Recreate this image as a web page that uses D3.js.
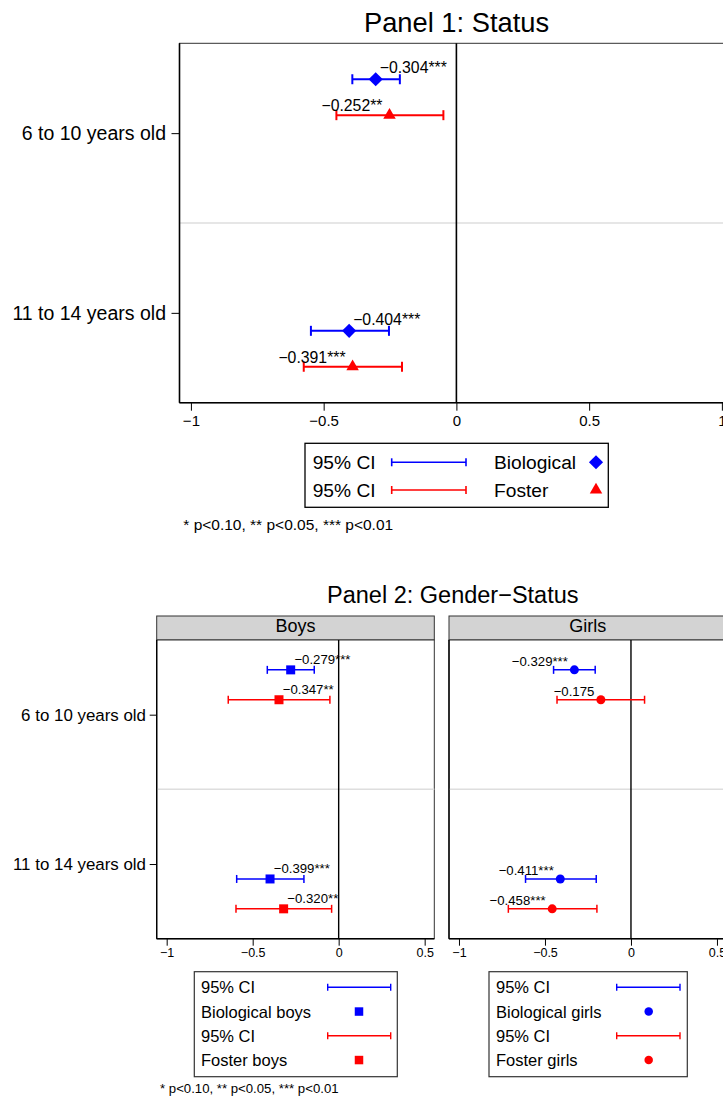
<!DOCTYPE html>
<html>
<head>
<meta charset="utf-8">
<script src="https://cdn.jsdelivr.net/npm/d3@7"></script>
<style>
  body { margin: 0; background: #fff; }
  svg { display: block; }
  text { font-family: "Liberation Sans", Arial, Helvetica, sans-serif; }
</style>
</head>
<body>
<svg id="chart" width="723" height="1100"></svg>
<script>
// ---------------- DATA ----------------
const ageGroups = ["6 to 10 years old", "11 to 14 years old"];

// Panel 1: Status
const p1BioEst   = [-0.304, -0.404];
const p1BioLo    = [-0.392, -0.548];
const p1BioHi    = [-0.213, -0.254];
const p1BioStars = ["***", "***"];
const p1FosEst   = [-0.252, -0.391];
const p1FosLo    = [-0.452, -0.575];
const p1FosHi    = [-0.049, -0.205];
const p1FosStars = ["**", "***"];

// Panel 2: Gender-Status
const boysBioEst   = [-0.279, -0.399];
const boysBioLo    = [-0.415, -0.593];
const boysBioHi    = [-0.142, -0.202];
const boysBioStars = ["***", "***"];
const boysFosEst   = [-0.347, -0.320];
const boysFosLo    = [-0.642, -0.597];
const boysFosHi    = [-0.051, -0.041];
const boysFosStars = ["**", "**"];

const girlsBioEst   = [-0.329, -0.411];
const girlsBioLo    = [-0.450, -0.613];
const girlsBioHi    = [-0.208, -0.202];
const girlsBioStars = ["***", "***"];
const girlsFosEst   = [-0.175, -0.458];
const girlsFosLo    = [-0.430, -0.713];
const girlsFosHi    = [ 0.079, -0.198];
const girlsFosStars = ["", "***"];

const xTicks1 = [-1, -0.5, 0, 0.5, 1];
const xTicks2 = [-1, -0.5, 0, 0.5];

const title1 = "Panel 1: Status";
const title2 = "Panel 2: Gender\u2212Status";
const facetNames = ["Boys", "Girls"];
const legend1Labels = ["95% CI", "Biological", "95% CI", "Foster"];
const legendBoys  = ["95% CI", "Biological boys", "95% CI", "Foster boys"];
const legendGirls = ["95% CI", "Biological girls", "95% CI", "Foster girls"];
const noteText = "* p<0.10, ** p<0.05, *** p<0.01";

// ---------------- DRAWING ----------------
const BLUE = "#0000ff", RED = "#ff0000";
const svg = d3.select("#chart");
const fmtVal = d3.format(".3f");
const fmtTick = d3.format("~g");

// vertical placement inside plot (fraction of plot height)
function rowPos(r, s) { return (r === 0 ? 0.1 : 0.8) + 0.1 * s; }

function markerPath(type, size) {
  if (type === "diamond") return d3.symbol(d3.symbolSquare, size * size)();
  if (type === "triangle") return d3.symbol(d3.symbolTriangle, Math.sqrt(3) / 4 * size * size)();
  if (type === "square") return d3.symbol(d3.symbolSquare, size * size)();
  return d3.symbol(d3.symbolCircle, Math.PI * (size / 2) * (size / 2))();
}
function drawMarker(g, type, size, cx, cy, color) {
  g.append("path")
    .attr("d", markerPath(type, size))
    .attr("transform", `translate(${cx},${cy})` + (type === "diamond" ? " rotate(45)" : ""))
    .attr("fill", color);
}
function drawCI(g, x1, x2, cy, capH, color, w) {
  g.append("line").attr("x1", x1).attr("x2", x2).attr("y1", cy).attr("y2", cy)
    .attr("stroke", color).attr("stroke-width", w);
  [x1, x2].forEach(xx => g.append("line").attr("x1", xx).attr("x2", xx)
    .attr("y1", cy - capH / 2).attr("y2", cy + capH / 2)
    .attr("stroke", color).attr("stroke-width", w));
}

function drawPlot(g, x, y, series, cfg) {
  const [xl, xr] = x.range();
  const [yt, yb] = y.range();
  g.append("rect").attr("x", xl).attr("y", yt).attr("width", xr - xl).attr("height", yb - yt)
    .attr("fill", "#fff").attr("stroke", "#333").attr("stroke-width", 1);
  // separator
  g.append("line").attr("x1", xl).attr("x2", xr).attr("y1", y(0.5)).attr("y2", y(0.5))
    .attr("stroke", "#dedede").attr("stroke-width", 1.5);
  // zero line
  g.append("line").attr("x1", x(0)).attr("x2", x(0)).attr("y1", yt).attr("y2", yb)
    .attr("stroke", "#000").attr("stroke-width", cfg.zeroW);

  series.forEach((s, si) => {
    s.est.forEach((v, r) => {
      const cy = y(rowPos(r, si));
      drawCI(g, x(s.lo[r]), x(s.hi[r]), cy, cfg.capH, s.color, cfg.ciW);
      drawMarker(g, s.marker, cfg.markerSize[s.marker], x(v), cy, s.color);
      const right = s.labelPos === "right";
      g.append("text")
        .attr("x", right ? x(v) + cfg.gapR : x(v) - cfg.gapL)
        .attr("y", right ? cy - 6 : cy - 4)
        .attr("text-anchor", right ? "start" : "end")
        .attr("font-size", cfg.labelSize)
        .attr("fill", "#000")
        .text(fmtVal(v) + s.stars[r]);
    });
  });

  // axes lines
  g.append("line").attr("x1", xl).attr("x2", xl).attr("y1", yt).attr("y2", yb)
    .attr("stroke", "#000").attr("stroke-width", cfg.axisW);
  g.append("line").attr("x1", xl).attr("x2", xr).attr("y1", yb).attr("y2", yb)
    .attr("stroke", "#000").attr("stroke-width", cfg.axisW);

  // x axis
  const ax = g.append("g").attr("transform", `translate(0,${yb})`)
    .call(d3.axisBottom(x).tickValues(cfg.xTicks).tickSize(cfg.tickLen)
      .tickPadding(cfg.xPad).tickFormat(fmtTick));
  ax.select(".domain").remove();
  ax.selectAll("text").attr("font-size", cfg.tickSize)
    .attr("font-family", '"Liberation Sans", Arial, sans-serif').attr("fill", "#000");
  ax.selectAll("line").attr("stroke", "#000");

  // y axis
  if (cfg.yAxis) {
    const yCat = d3.scalePoint().domain(ageGroups).range([y(0.25), y(0.75)]);
    const ay = g.append("g").attr("transform", `translate(${xl},0)`)
      .call(d3.axisLeft(yCat).tickSize(cfg.tickLen).tickPadding(cfg.yPad));
    ay.select(".domain").remove();
    ay.selectAll("text").attr("font-size", cfg.yLabelSize)
      .attr("font-family", '"Liberation Sans", Arial, sans-serif').attr("fill", "#000");
    ay.selectAll("line").attr("stroke", "#000");
  }
}

// ---------- Panel 1 ----------
const g1 = svg.append("g");
const x1 = d3.scaleLinear().domain([-1.043, 1.043]).range([179.5, 733.3]);
const y1 = d3.scaleLinear().domain([0, 1]).range([43.3, 402.7]);

g1.append("text").attr("x", 456.5).attr("y", 31.7).attr("text-anchor", "middle")
  .attr("font-size", 27.3).text(title1);

drawPlot(g1, x1, y1, [
  { est: p1BioEst, lo: p1BioLo, hi: p1BioHi, stars: p1BioStars, color: BLUE, marker: "diamond", labelPos: "right" },
  { est: p1FosEst, lo: p1FosLo, hi: p1FosHi, stars: p1FosStars, color: RED, marker: "triangle", labelPos: "left" }
], {
  zeroW: 1.6, ciW: 2, capH: 10, markerSize: { diamond: 10, triangle: 12.5 },
  labelSize: 15.8, gapR: 4, gapL: 7, axisW: 1.6, xTicks: xTicks1, tickLen: 8, xPad: 4.3,
  tickSize: 15, yAxis: true, yPad: 5.5, yLabelSize: 19.5
});

// legend panel 1
const lg1 = svg.append("g");
lg1.append("rect").attr("x", 305).attr("y", 443.3).attr("width", 303.3).attr("height", 64)
  .attr("fill", "#fff").attr("stroke", "#000").attr("stroke-width", 1.3);
[[BLUE, "diamond"], [RED, "triangle"]].forEach(([col, mk], i) => {
  const base = 469 + i * 27.7;
  const cy = base - 6.7;
  lg1.append("text").attr("x", 312.7).attr("y", base).attr("font-size", 19.2).text(legend1Labels[i * 2]);
  drawCI(lg1, 391.7, 466, cy, 8, col, 1.6);
  lg1.append("text").attr("x", 494).attr("y", base).attr("font-size", 19.2).text(legend1Labels[i * 2 + 1]);
  drawMarker(lg1, mk, mk === "diamond" ? 10 : 12.5, 596, cy, col);
});
svg.append("text").attr("x", 183.3).attr("y", 530).attr("font-size", 15.5).text(noteText);

// ---------- Panel 2 ----------
const g2 = svg.append("g");
g2.append("text").attr("x", 452.8).attr("y", 602.7).attr("text-anchor", "middle")
  .attr("font-size", 23.5).text(title2);

const y2 = d3.scaleLinear().domain([0, 1]).range([640, 938.7]);
const facetLefts = [156.7, 449];
const facetWidth = 277.6;
const facetSeries = [
  [
    { est: boysBioEst, lo: boysBioLo, hi: boysBioHi, stars: boysBioStars, color: BLUE, marker: "square", labelPos: "right" },
    { est: boysFosEst, lo: boysFosLo, hi: boysFosHi, stars: boysFosStars, color: RED, marker: "square", labelPos: "right" }
  ],
  [
    { est: girlsBioEst, lo: girlsBioLo, hi: girlsBioHi, stars: girlsBioStars, color: BLUE, marker: "circle", labelPos: "left" },
    { est: girlsFosEst, lo: girlsFosLo, hi: girlsFosHi, stars: girlsFosStars, color: RED, marker: "circle", labelPos: "left" }
  ]
];

facetNames.forEach((name, fi) => {
  const xl = facetLefts[fi];
  const x = d3.scaleLinear().domain([-1.058, 0.556]).range([xl, xl + facetWidth]);
  // strip
  g2.append("rect").attr("x", xl).attr("y", 616).attr("width", facetWidth).attr("height", 24)
    .attr("fill", "#d3d3d3").attr("stroke", "#333").attr("stroke-width", 1);
  g2.append("text").attr("x", xl + facetWidth / 2).attr("y", 632.3).attr("text-anchor", "middle")
    .attr("font-size", 18).text(name);
  drawPlot(g2, x, y2, facetSeries[fi], {
    zeroW: 1.4, ciW: 1.5, capH: 8, markerSize: { square: 9, circle: 9 },
    labelSize: 13.2, gapR: 3.7, gapL: 6.5, axisW: 1.4, xTicks: xTicks2, tickLen: 7, xPad: 2.9,
    tickSize: 12.5, yAxis: fi === 0, yPad: 3.7, yLabelSize: 16.9
  });
});

// legends panel 2
const legBoxes = [
  { x: 194.3, w: 203, textX: 201, ci: [327.7, 390.7], mx: 359, labels: legendBoys, marker: "square" },
  { x: 489, w: 198.3, textX: 496, ci: [616.7, 680], mx: 648.7, labels: legendGirls, marker: "circle" }
];
legBoxes.forEach(lb => {
  const lg = svg.append("g");
  lg.append("rect").attr("x", lb.x).attr("y", 971.7).attr("width", lb.w).attr("height", 105)
    .attr("fill", "#fff").attr("stroke", "#333").attr("stroke-width", 1.2);
  lb.labels.forEach((lab, i) => {
    const base = 993.3 + i * 24.25;
    const cy = base - 6;
    lg.append("text").attr("x", lb.textX).attr("y", base).attr("font-size", 16.5).text(lab);
    const col = i < 2 ? BLUE : RED;
    if (i % 2 === 0) drawCI(lg, lb.ci[0], lb.ci[1], cy, 7, col, 1.4);
    else drawMarker(lg, lb.marker, 8.5, lb.mx, cy, col);
  });
});
svg.append("text").attr("x", 160).attr("y", 1092.7).attr("font-size", 13.2).text(noteText);
</script>
</body>
</html>
